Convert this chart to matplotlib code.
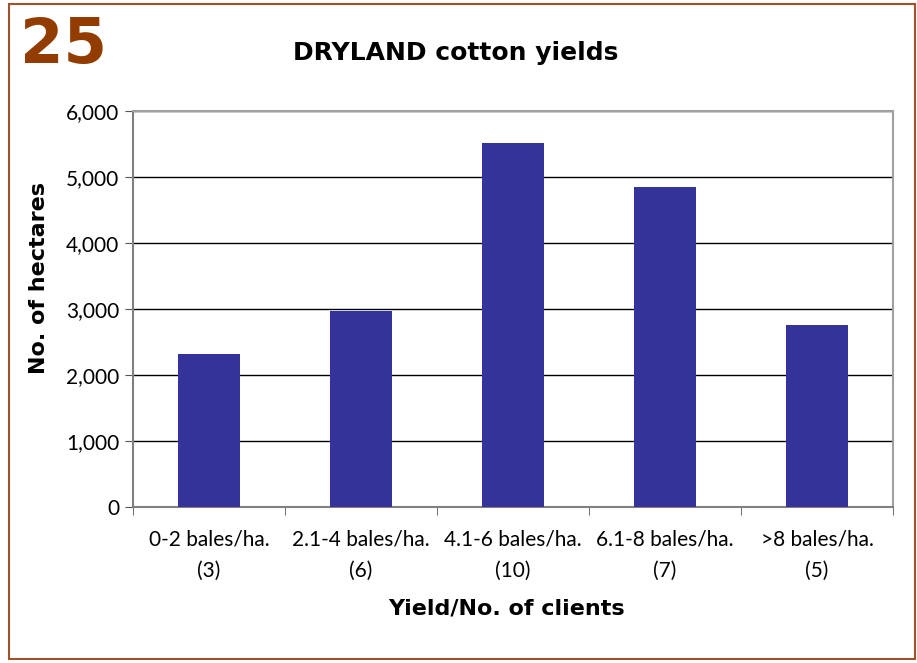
import matplotlib.pyplot as plt
from matplotlib.patches import Rectangle
from matplotlib.ticker import FuncFormatter, FixedLocator

# data
categories = ['0-2 bales/ha.\n(3)', '2.1-4 bales/ha.\n(6)', '4.1-6 bales/ha.\n(10)',
              '6.1-8 bales/ha.\n(7)', '>8 bales/ha.\n(5)']
hectares = [2320, 2970, 5520, 4850, 2760]
y_ticks = [0, 1000, 2000, 3000, 4000, 5000, 6000]

plt.rcParams['font.family'] = ['Lato', 'DejaVu Sans']

fig = plt.figure(figsize=(9.17, 6.63), dpi=100)
ax = fig.add_axes([0.145, 0.2353, 0.829, 0.5973])

x = range(len(categories))
ax.bar(x, hectares, width=0.41, color='#333399', zorder=3)

ax.set_xlim(-0.5, len(categories) - 0.5)
ax.set_ylim(0, 6000)
ax.set_yticks(y_ticks)
ax.yaxis.set_major_formatter(FuncFormatter(lambda v, p: f'{int(v):,}'))
ax.grid(axis='y', color='black', linewidth=1, zorder=1)

ax.set_xticks(list(x))
ax.set_xticklabels(categories, fontsize=15, linespacing=1.75)
ax.tick_params(axis='x', which='major', length=0, pad=16)
ax.xaxis.set_minor_locator(FixedLocator([i - 0.5 for i in range(len(categories) + 1)]))
ax.tick_params(axis='x', which='minor', length=6, color='#555555', direction='out')
ax.tick_params(axis='y', labelsize=15, length=6, color='#555555', pad=4)

for side in ['top', 'right']:
    ax.spines[side].set_color('#a0a0a0')
    ax.spines[side].set_linewidth(1.5)
for side in ['left', 'bottom']:
    ax.spines[side].set_color('#808080')
    ax.spines[side].set_linewidth(1.5)

ax.set_xlabel('Yield/No. of clients', fontsize=16, fontweight='bold',
              family=['DejaVu Sans'], labelpad=10)
ax.xaxis.set_label_coords(0.491, -0.232)
ax.set_ylabel('No. of hectares', fontsize=16, fontweight='bold',
              family=['DejaVu Sans'])
ax.yaxis.set_label_coords(-0.111, 0.578)

fig.text(0.497, 0.92, 'DRYLAND cotton yields', ha='center', va='center',
         fontsize=18, fontweight='bold', family=['DejaVu Sans'])
fig.text(0.022, 0.93, '25', ha='left', va='center', fontsize=45,
         fontweight='bold', color='#933C00', family=['DejaVu Sans'])

# brown frame round the whole figure
fig.patches.append(Rectangle((9 / 917, 4 / 663), 906 / 917, 655 / 663,
                             transform=fig.transFigure, fill=False,
                             edgecolor='#A0522D', linewidth=1.5))

fig.savefig('out.png', dpi=100)
